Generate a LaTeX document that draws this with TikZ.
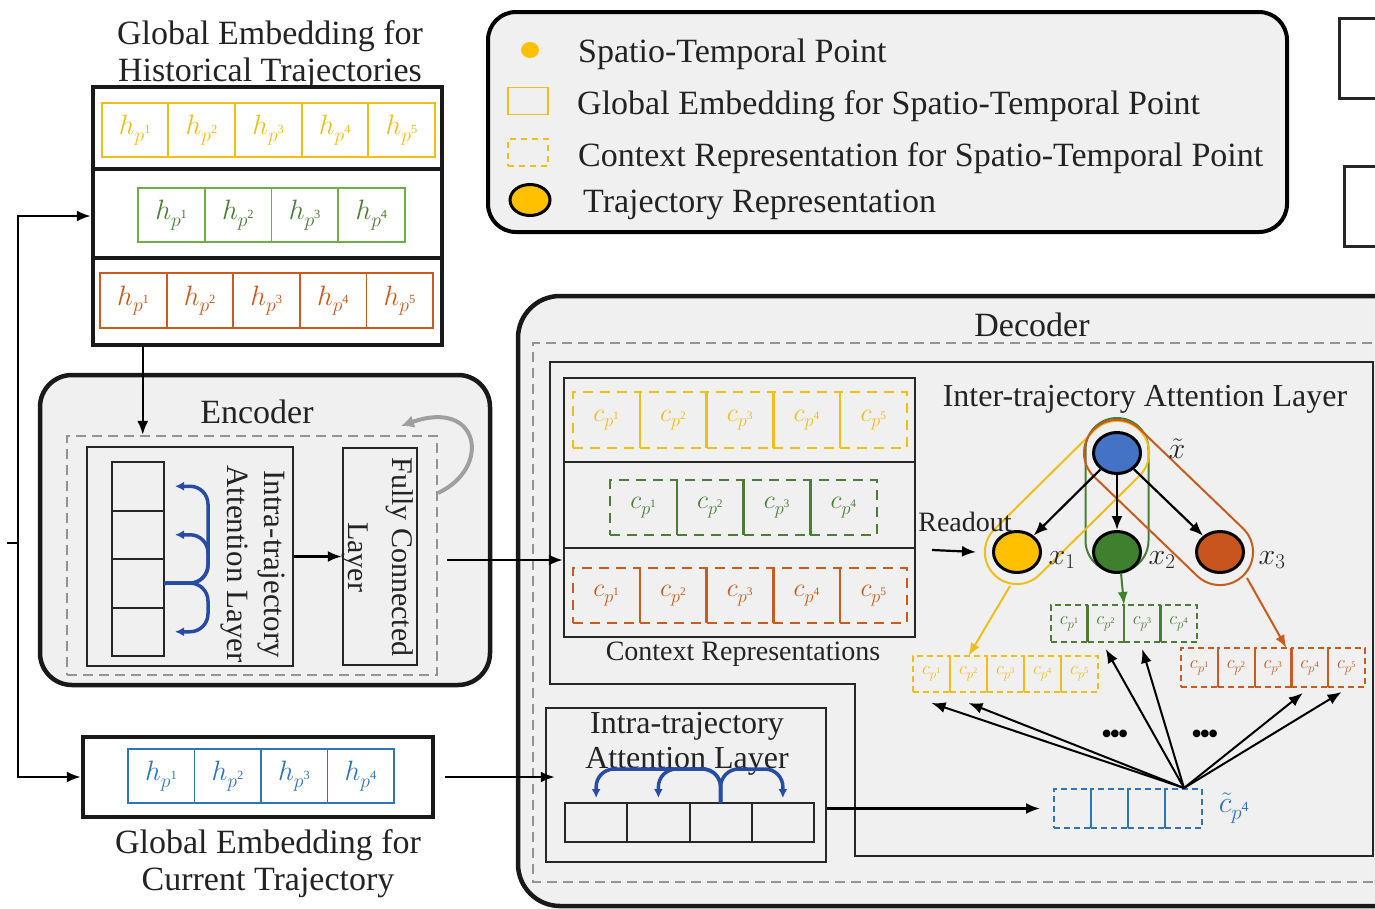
\documentclass[tikz,border=0pt]{standalone}
\usepackage{fix-cm}
\usepackage{fontspec}
\setmainfont{Liberation Serif}
\usetikzlibrary{arrows.meta,shapes.misc,shapes.geometric,calc}
\definecolor{bgg}{RGB}{240,240,240}
\definecolor{yel}{RGB}{240,190,25}
\definecolor{grn}{RGB}{112,173,71}
\definecolor{dgrn}{RGB}{75,125,55}
\definecolor{org}{RGB}{200,92,30}
\definecolor{blu}{RGB}{46,117,182}
\definecolor{dblu}{RGB}{40,75,165}
\definecolor{nblue}{RGB}{68,114,196}
\definecolor{ngreen}{RGB}{62,128,45}
\definecolor{norange}{RGB}{200,85,30}
\definecolor{nyellow}{RGB}{255,192,0}
\definecolor{txt}{RGB}{35,35,35}
\newcommand\fszA{\fontsize{34}{37}\selectfont}
\newcommand\fszB{\fontsize{31}{37}\selectfont}
\newcommand\fszC{\fontsize{28}{30}\selectfont}
\newcommand\hp[1]{$h_{p\raisebox{8pt}{\fontsize{12.5}{13}\selectfont #1}}$}
\newcommand\cp[1]{$c_{p\raisebox{7pt}{\fontsize{11.5}{12}\selectfont #1}}$}
\newcommand\scp[1]{$c_{p\raisebox{5pt}{\fontsize{8.5}{9}\selectfont #1}}$}
\tikzset{
  arr/.style={-{Latex[length=14pt,width=11pt]}, line width=2.2pt, draw=black},
  carr/.style={-{Latex[length=13pt,width=10pt]}, line width=2pt},
  barr/.style={-{Latex[length=9pt,width=9pt]}, line width=3.5pt, draw=dblu, rounded corners=18pt},
  thickbox/.style={draw=black!90, line width=4.5pt},
  thinbox/.style={draw=black!85, line width=2.5pt},
  gdash/.style={draw=gray!85, line width=2.2pt, dash pattern=on 10pt off 6pt},
  hcell/.style={draw, line width=1.8pt, inner sep=0pt, outer sep=0pt, minimum height=54pt, font=\fontsize{28}{30}\selectfont},
  ccell/.style={draw, line width=2.5pt, dash pattern=on 10pt off 7pt, inner sep=0pt, outer sep=0pt, font=\fontsize{26}{28}\selectfont},
  scell/.style={draw, line width=1.8pt, dash pattern=on 6pt off 4pt, inner sep=0pt, outer sep=0pt, font=\fontsize{18.5}{19}\selectfont},
  ecell/.style={draw=black!85, line width=2pt, inner sep=0pt, outer sep=0pt},
  tnode/.style={ellipse, draw=black, line width=3pt, minimum width=47pt, minimum height=41pt, inner sep=0pt},
  capsule/.style={rounded rectangle, line width=2pt, inner sep=0pt, fill=none},
}
\begin{document}
\begin{tikzpicture}[x=1pt,y=-1pt, every node/.style={text=txt}]
\useasboundingbox (0,0) rectangle (1375,908);
\clip (0,0) rectangle (1375,908);
\fill[white] (0,0) rectangle (1375,908);

% ---------------- Legend ----------------
\node[draw, line width=4pt, rounded corners=28pt, fill=bgg, minimum width=799pt, minimum height=220pt, inner sep=0pt] (leg) at (887.5,122) {};
\node[ellipse, fill=nyellow, minimum width=18pt, minimum height=16pt, inner sep=0pt] (lgdot) at (530,50) {};
\node[anchor=west, font=\fszA, inner sep=0pt] (lgt1) at (578,54) {Spatio-Temporal Point};
\node[draw=yel, line width=1.8pt, minimum width=40pt, minimum height=27pt, inner sep=0pt] (lgbox) at (528,101) {};
\node[anchor=west, font=\fszA, inner sep=0pt] (lgt2) at (577,106) {Global Embedding for Spatio-Temporal Point};
\node[draw=yel, line width=2pt, dash pattern=on 6pt off 5pt, minimum width=40pt, minimum height=27pt, inner sep=0pt] (lgdash) at (528,152) {};
\node[anchor=west, font=\fszA, inner sep=0pt] (lgt3) at (578,158) {Context Representation for Spatio-Temporal Point};
\node[ellipse, draw=black, line width=3pt, fill=nyellow, minimum width=40pt, minimum height=31pt, inner sep=0pt] (lgtraj) at (530,200) {};
\node[anchor=west, font=\fszA, inner sep=0pt] (lgt4) at (583,205) {Trajectory Representation};

% top-right partial boxes
\node[draw=black!85, line width=3pt, minimum width=120pt, minimum height=80pt, anchor=north west, inner sep=0pt] (tr1) at (1338,17) {};
\node[draw=black!85, line width=3pt, minimum width=120pt, minimum height=80pt, anchor=north west, inner sep=0pt] (tr2) at (1343,165) {};

% ---------------- Historical trajectories ----------------
\node[align=center, font=\fszA, inner sep=0pt] (histT) at (270,55) {Global Embedding for\\Historical Trajectories};
\node[thickbox, minimum width=349pt, minimum height=258pt, inner sep=0pt] (hist) at (267.5,216) {};
\draw[thickbox] (93,169) -- (442,169);
\draw[thickbox] (93,258) -- (442,258);
\foreach \i in {1,...,5}
  \node[hcell, draw=yel, text=yel, minimum width=66.67pt] (hy\i) at ({101.7+66.67*(\i-0.5)},130) {\hp{\i}};
\foreach \i in {1,...,4}
  \node[hcell, draw=grn, text=dgrn, minimum width=66.75pt] (hg\i) at ({138+66.75*(\i-0.5)},215) {\hp{\i}};
\foreach \i in {1,...,5}
  \node[hcell, draw=org, text=org, minimum width=66.6pt, minimum height=55pt] (ho\i) at ({100+66.6*(\i-0.5)},300.5) {\hp{\i}};

% ---------------- Current trajectory ----------------
\node[thickbox, minimum width=350pt, minimum height=80pt, inner sep=0pt] (cur) at (258,777) {};
\foreach \i in {1,...,4}
  \node[hcell, draw=blu, text=blu, minimum width=66.5pt] (hb\i) at ({128+66.5*(\i-0.5)},776) {\hp{\i}};
\node[align=center, font=\fszA, inner sep=0pt] (curT) at (268,864) {Global Embedding for\\Current Trajectory};

% ---------------- Encoder ----------------
\node[draw=black!90, line width=4.5pt, rounded corners=32pt, fill=bgg, minimum width=450pt, minimum height=310pt, inner sep=0pt] (enc) at (265,530) {};
\node[font=\fszA, inner sep=0pt] (encT) at (257,412) {Encoder};
\node[gdash, minimum width=370pt, minimum height=239pt, inner sep=0pt] (dashE) at (252,555.5) {};
\node[thinbox, minimum width=206pt, minimum height=219pt, inner sep=0pt] (intra) at (190,556.5) {};
\foreach \i in {1,...,4}
  \node[ecell, minimum width=52pt, minimum height=48.5pt] (ec\i) at (138,{462+48.5*(\i-0.5)}) {};
\node[rotate=-90, align=center, font=\fszB, inner sep=0pt] (intraT) at (253,564) {Intra-trajectory\\Attention Layer};
\node[thinbox, minimum width=74pt, minimum height=217pt, inner sep=0pt] (fc) at (380,556.5) {};
\node[rotate=-90, align=center, font=\fontsize{30}{44}\selectfont, inner sep=0pt] (fcT) at (378,557) {Fully Connected\\Layer};
\coordinate (espine) at (208,583);
\draw[barr] (ec3.east) -- (espine) -- (espine |- ec1.east) -- ([xshift=11pt]ec1.east);
\draw[barr] (ec3.east) -- (espine) -- (espine |- ec2.east) -- ([xshift=11pt]ec2.east);
\draw[barr] (ec3.east) -- (espine) -- (espine |- ec4.east) -- ([xshift=11pt]ec4.east);
\draw[arr] (intra.east) -- (fc.west);
\coordinate (fb1) at (438,493);
\coordinate (fb2) at (401,426);
\draw[draw=gray!75, line width=4pt, -{Latex[length=13pt,width=13pt]}] (fb1) .. controls (492,468) and (480,398) .. (fb2);

% ---------------- Decoder ----------------
\filldraw[fill=bgg, draw=black!90, line width=4.5pt, rounded corners=42pt] (1420,296) -- (518,296) -- (518,906) -- (1420,906) -- cycle;
\node[font=\fszA, inner sep=0pt] (decT) at (1032,325) {Decoder};
\draw[gdash] (1420,343) -- (533,343) -- (533,882) -- (1420,882);
\draw[thinbox] (550,362) -- (1373,362) -- (1373,856) -- (855,856) -- (855,684) -- (550,684) -- cycle;

% context representations
\node[thinbox, minimum width=351pt, minimum height=259pt, inner sep=0pt] (ctx) at (739.5,507.5) {};
\draw[thinbox] (564,462) -- (915,462);
\draw[thinbox] (564,548) -- (915,548);
\foreach \i in {1,...,5}
  \node[ccell, draw=yel, text=yel, minimum width=66.8pt, minimum height=56pt] (cy\i) at ({573+66.8*(\i-0.5)},420) {\cp{\i}};
\foreach \i in {1,...,4}
  \draw[yel, line width=2.5pt] (cy\i.north east) -- (cy\i.south east);
\foreach \i in {1,...,4}
  \node[ccell, draw=dgrn, text=dgrn, minimum width=66.75pt, minimum height=55pt] (cg\i) at ({610+66.75*(\i-0.5)},507.5) {\cp{\i}};
\foreach \i in {1,...,3}
  \draw[dgrn, line width=2.5pt] (cg\i.north east) -- (cg\i.south east);
\foreach \i in {1,...,5}
  \node[ccell, draw=org, text=org, minimum width=66.8pt, minimum height=55pt] (co\i) at ({573+66.8*(\i-0.5)},595.5) {\cp{\i}};
\foreach \i in {1,...,4}
  \draw[org, line width=2.5pt] (co\i.north east) -- (co\i.south east);
\node[font=\fszC, inner sep=0pt] (ctxT) at (743,654) {Context Representations};
\coordinate (fco) at (447,560);
\draw[arr] (fco) -- (fco -| ctx.west);

% intra-trajectory (decoder)
\node[thinbox, minimum width=280pt, minimum height=154pt, inner sep=0pt] (intra2) at (686,785) {};
\node[align=center, font=\fontsize{32}{35}\selectfont, inner sep=0pt] (intra2T) at (687,744) {Intra-trajectory\\Attention Layer};
\foreach \i in {1,...,4}
  \node[ecell, minimum width=62.25pt, minimum height=39pt] (ic\i) at ({565+62.25*(\i-0.5)},822.5) {};
\coordinate (bspine) at (ic3.north |- 0,769);
\draw[barr] (ic3.north) -- (bspine) -- (bspine -| ic1.north) -- ([yshift=5pt]ic1.north);
\draw[barr] (ic3.north) -- (bspine) -- (bspine -| ic2.north) -- ([yshift=5pt]ic2.north);
\draw[barr] (ic3.north) -- (bspine) -- (bspine -| ic4.north) -- ([yshift=5pt]ic4.north);
\draw[arr] ([xshift=10pt]cur.east) -- ([xshift=10pt]cur.east -| intra2.west);

% inter-trajectory attention
\node[font=\fontsize{32}{34}\selectfont, inner sep=0pt] (interT) at (1145,399) {Inter-trajectory Attention Layer};
\node[capsule, draw=dgrn, minimum width=154pt, minimum height=63pt, rotate=90] (capG) at (1117,495) {};
\node[capsule, draw=yel, minimum width=205pt, minimum height=64pt, rotate=44.7] (capY) at (1067,502.5) {};
\node[capsule, draw=org, minimum width=209pt, minimum height=66pt, rotate=-43.9] (capO) at (1168.5,502.5) {};
\node[tnode, fill=nblue] (nb) at (1117,453) {};
\node[tnode, fill=nyellow] (ny) at (1017,552) {};
\node[tnode, fill=ngreen] (ng) at (1117,552) {};
\node[tnode, fill=norange] (no) at (1220,552) {};
\node[font=\fontsize{30}{32}\selectfont, inner sep=0pt] (lxt) at (1177,449) {$\tilde{x}$};
\node[font=\fontsize{30}{32}\selectfont, inner sep=0pt] (lx1) at (1062,560) {$x_1$};
\node[font=\fontsize{30}{32}\selectfont, inner sep=0pt] (lx2) at (1162,560) {$x_2$};
\node[font=\fontsize{30}{32}\selectfont, inner sep=0pt] (lx3) at (1272,560) {$x_3$};
\draw[arr] (nb) -- (ny);
\draw[arr] (nb) -- (ng);
\draw[arr] (nb) -- (no);
\node[font=\fszC, inner sep=0pt] (rdT) at (965,522) {Readout};
\coordinate (ro) at (932,550);
\draw[arr] (ro) -- ([xshift=-16pt]ny.west);

% small context groups
\foreach \i in {1,...,4}
  \node[scell, draw=dgrn, text=dgrn, minimum width=36.5pt, minimum height=37pt] (sg\i) at ({1051+36.5*(\i-0.5)},623.5) {\scp{\i}};
\foreach \i in {1,...,3}
  \draw[dgrn, line width=2.2pt] (sg\i.north east) -- (sg\i.south east);
\foreach \i in {1,...,5}
  \node[scell, draw=yel, text=yel, minimum width=37pt, minimum height=36pt] (sy\i) at ({913+37*(\i-0.5)},674) {\scp{\i}};
\foreach \i in {1,...,4}
  \draw[yel, line width=2.2pt] (sy\i.north east) -- (sy\i.south east);
\foreach \i in {1,...,5}
  \node[scell, draw=org, text=org, minimum width=36.8pt, minimum height=39pt] (so\i) at ({1181+36.8*(\i-0.5)},667.5) {\scp{\i}};
\foreach \i in {1,...,4}
  \draw[org, line width=2.2pt] (so\i.north east) -- (so\i.south east);
\foreach \i in {1,...,4}
  \node[scell, draw=blu, minimum width=37pt, minimum height=39pt] (sb\i) at ({1054+37*(\i-0.5)},808.5) {};
\foreach \i in {1,...,3}
  \draw[blu, line width=2.2pt] (sb\i.north east) -- (sb\i.south east);
\node[font=\fontsize{30}{32}\selectfont, text=blu, inner sep=0pt] (lcp) at (1234,808) {$\tilde{c}_{p\raisebox{8pt}{\fontsize{14}{14}\selectfont 4}}$};

% coloured arrows from capsules
\coordinate (ys) at (1010,586);
\coordinate (gs) at (1121,573);
\coordinate (os) at (1247,578);
\draw[carr, draw=yel] (ys) -- (sy2.north);
\draw[carr, draw=ngreen] (gs) -- (sg2.north east);
\draw[carr, draw=org] (os) -- ([xshift=-5pt]so3.north east);

% black arrows from the current point
\coordinate (src) at (1184,788);
\draw[arr, line width=2pt] (src) -- ([yshift=-11pt]sy1.south);
\draw[arr, line width=2pt] (src) -- ([yshift=-11pt]sy2.south);
\draw[arr, line width=2pt] (src) -- ([yshift=-7pt]sg2.south);
\draw[arr, line width=2pt] (src) -- ([yshift=-7pt]sg3.south);
\draw[arr, line width=2pt] (src) -- ([yshift=-6pt,xshift=-7pt]so4.south);
\draw[arr, line width=2pt] (src) -- ([yshift=-5pt,xshift=-5pt]so5.south);
\node[font=\fontsize{32}{32}\selectfont, text=black, inner sep=0pt] (dots1) at (1115,737) {\textbullet\kern-3pt\textbullet\kern-3pt\textbullet};
\node[font=\fontsize{32}{32}\selectfont, text=black, inner sep=0pt] (dots2) at (1205,737) {\textbullet\kern-3pt\textbullet\kern-3pt\textbullet};
\draw[arr] (intra2.east |- sb1.west) -- ([xshift=-14pt]sb1.west);

% feedback loop on the left
\coordinate (tk) at (7,543);
\coordinate (sp) at (18,543);
\draw[line width=2.2pt] (tk) -- (sp);
\draw[arr] (sp) |- (hist.west);
\draw[arr] (sp) |- (cur.west);
\draw[arr] ([xshift=52pt]hist.south west) -- ([xshift=52pt]hist.south west |- dashE.north);
\end{tikzpicture}
\end{document}
